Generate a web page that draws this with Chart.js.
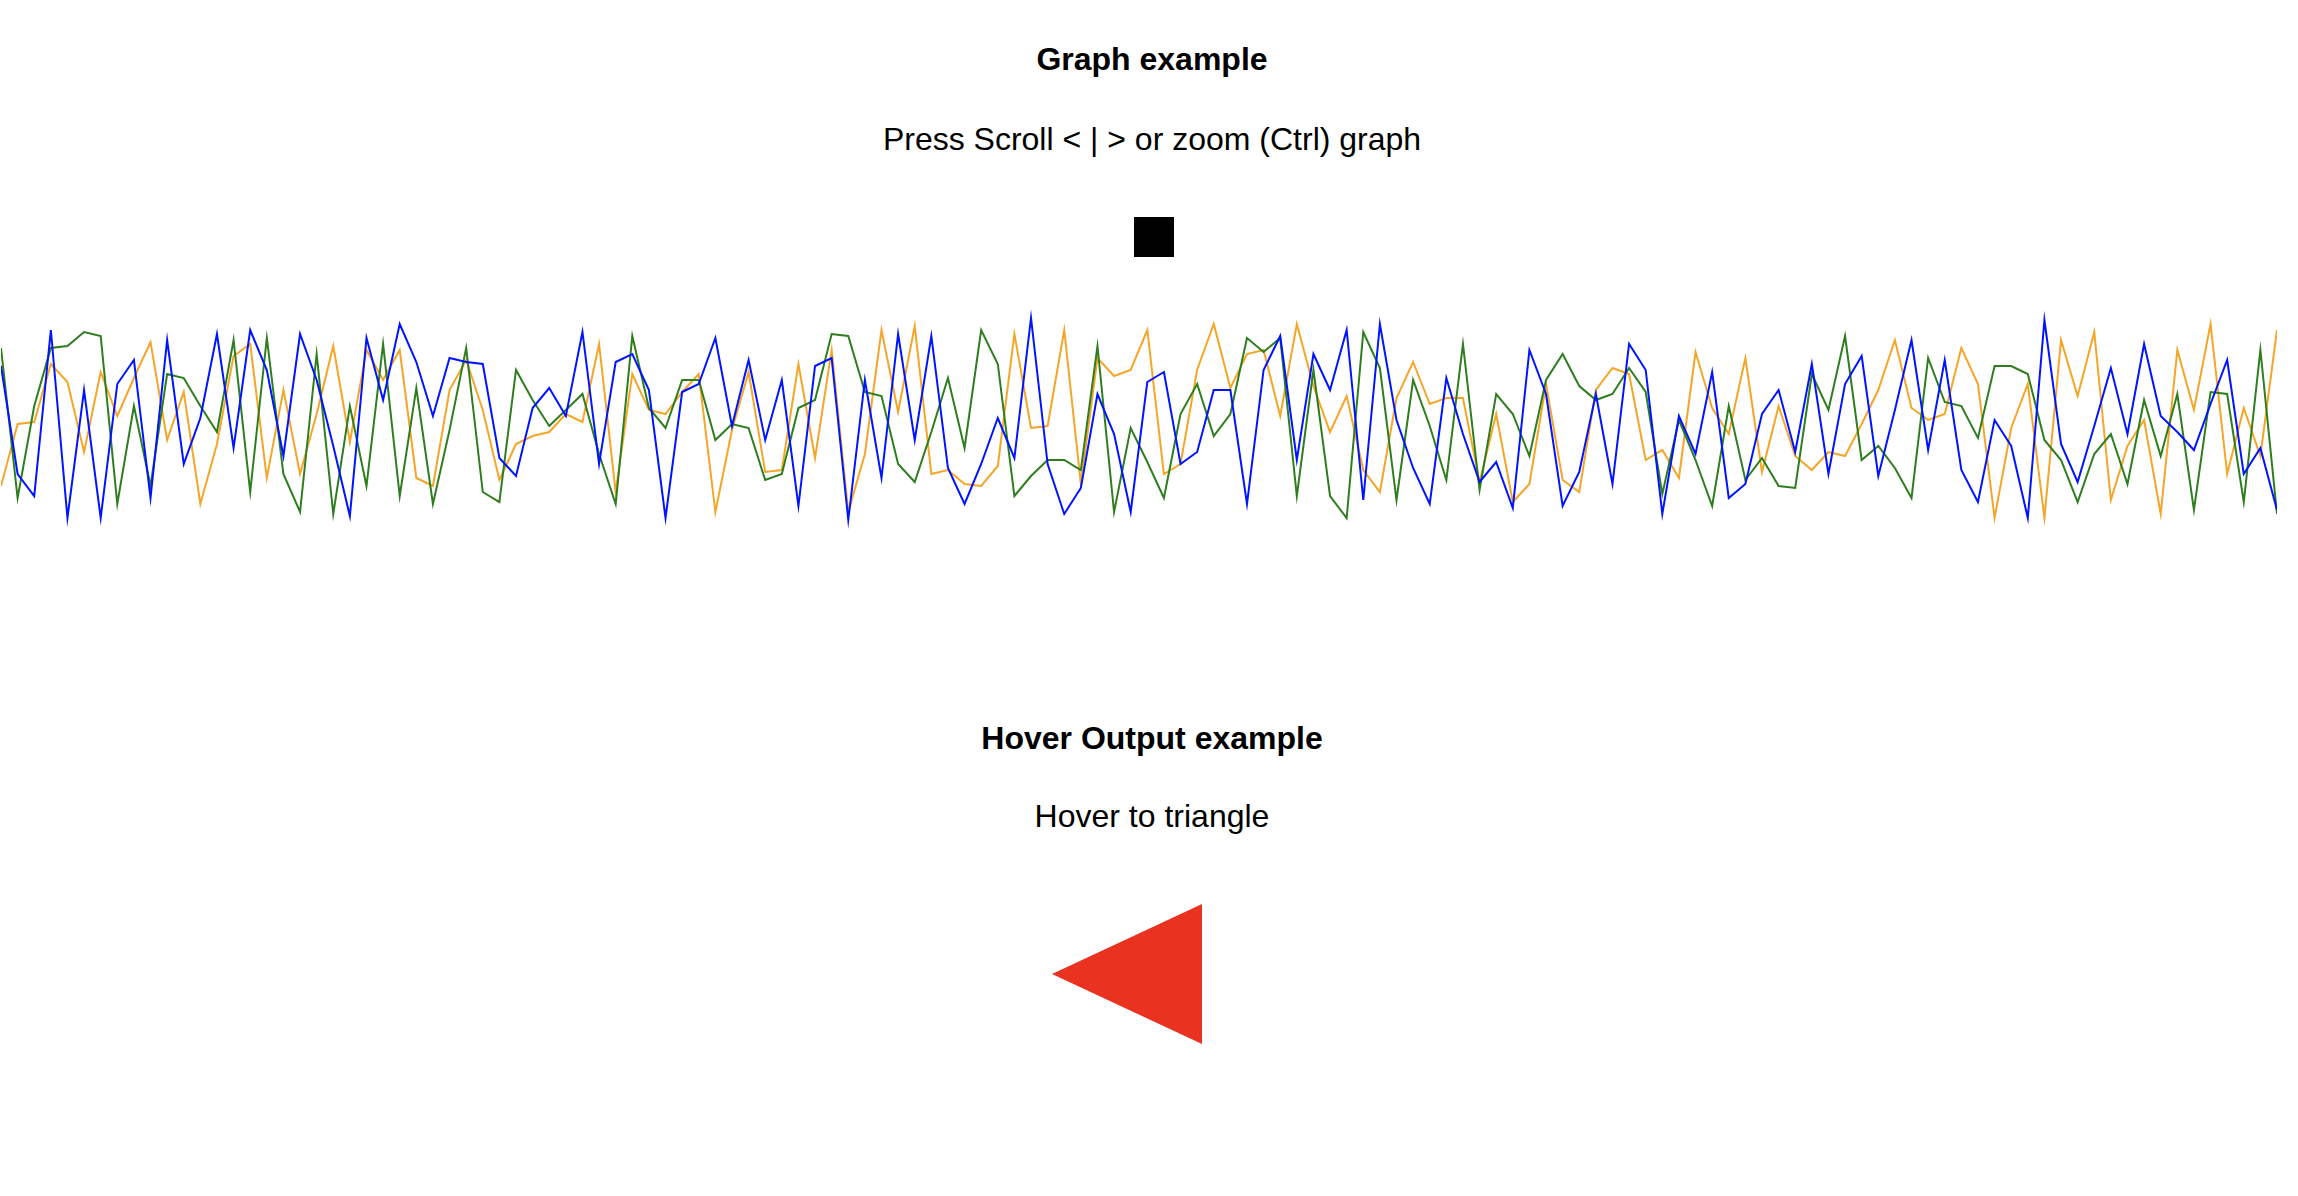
<!DOCTYPE html>
<html>
<head>
<meta charset="utf-8">
<script src="https://cdn.jsdelivr.net/npm/chart.js@4"></script>
<style>
  html, body { margin: 0; padding: 0; background: #fff; width: 2298px; height: 1196px; overflow: hidden; }
  body { position: relative; font-family: "Liberation Sans", Arial, Helvetica, sans-serif; color: #000; }
  .t { position: absolute; left: 3px; width: 2298px; text-align: center; font-size: 32px; line-height: 36px; white-space: nowrap; }
  .b { font-weight: bold; }
  #sq { position: absolute; left: 1134px; top: 217px; width: 40px; height: 40px; background: #000; }
  #chartBox { position: absolute; left: 1px; top: 302px; width: 2276px; height: 240px; }
  #tri { position: absolute; left: 1052px; top: 904px; width: 0; height: 0;
         border-top: 70px solid transparent; border-bottom: 70px solid transparent; border-right: 150px solid #e9321f; }
</style>
</head>
<body>
<div class="t b" style="top:41px">Graph example</div>
<div class="t" style="top:121px">Press Scroll &lt; | &gt; or zoom (Ctrl) graph</div>
<div id="sq"></div>
<div id="chartBox"><canvas id="c" width="2276" height="240"></canvas></div>
<div class="t b" style="top:720px">Hover Output example</div>
<div class="t" style="top:798px">Hover to triangle</div>
<div id="tri"></div>
<script>
const blueValues = [78,24,13,96,2,66,2,69,81,12,91,29,52,94,37,96,76,33,94,71,38,3,92,61,
  99,80,53,82,80,79,32,23,57,67,53,95,29,80,84,66,2,65,69,92,48,81,41,71,
  8,78,82,1,71,22,94,41,93,27,9,29,52,32,102,29,4,17,64,44,5,70,75,29,
  35,66,66,9,76,93,31,84,66,96,11,99,51,27,9,72,44,20,30,7,86,64,8,25,
  64,19,89,76,4,53,34,75,12,19,54,66,35,79,24,69,83,23,56,
  91,36,81,26,10,51,38,2,101,39,20,48,77,44,89,53,45,36,59,81,24,37,6];
const orangeValues = [18,49,50,79,70,35,75,53,72,90,41,65,9,39,83,89,22,66,24,54,88,40,86,71,
  86,22,18,66,81,56,21,39,43,45,54,50,89,15,74,56,54,65,74,5,46,75,25,26,
  79,32,86,5,34,96,55,98,24,26,19,18,28,94,47,48,96,19,82,73,76,96,24,29,
  76,99,67,84,86,53,99,68,45,63,26,15,62,80,59,62,62,20,54,10,19,69,21,15,
  66,77,74,31,36,22,85,57,44,82,25,58,33,26,35,33,49,66,91,
  57,51,54,87,69,2,47,69,2,91,63,95,11,38,51,4,86,56,99,24,57,33,96];
const greenValues = [87,12,58,87,88,95,93,9,58,18,74,72,58,45,91,15,92,24,5,84,4,58,18,89,
  13,67,9,46,87,15,10,76,61,48,56,64,34,9,93,57,47,71,71,41,49,47,21,24,
  57,61,94,93,65,63,29,20,45,72,37,96,79,13,23,31,31,26,88,5,47,30,12,54,
  69,43,54,92,85,92,13,76,13,2,95,77,11,71,48,21,89,16,64,54,33,71,84,68,
  61,64,77,65,14,51,31,8,58,21,32,18,17,74,56,93,31,38,27,
  12,82,60,58,42,78,78,74,41,31,10,34,44,19,61,33,64,6,65,64,10,86,4];
const categories = blueValues.map((_, i) => String(i));

new Chart(document.getElementById('c'), {
  type: 'line',
  data: {
    labels: categories,
    datasets: [
      { label: 'Blue', data: blueValues, borderColor: 'rgb(0,20,255)' },
      { label: 'Green', data: greenValues, borderColor: 'rgb(46,125,30)' },
      { label: 'Orange', data: orangeValues, borderColor: 'rgb(245,166,40)' }
    ]
  },
  options: {
    responsive: false,
    devicePixelRatio: 1,
    animation: false,
    events: [],
    layout: { padding: 0 },
    elements: {
      line: { borderWidth: 2, tension: 0, fill: false },
      point: { radius: 0, hoverRadius: 0 }
    },
    plugins: { legend: { display: false }, tooltip: { enabled: false }, title: { display: false } },
    scales: {
      x: { display: false, offset: false },
      y: { display: false, min: -10, max: 110 }
    }
  }
});
</script>
</body>
</html>
